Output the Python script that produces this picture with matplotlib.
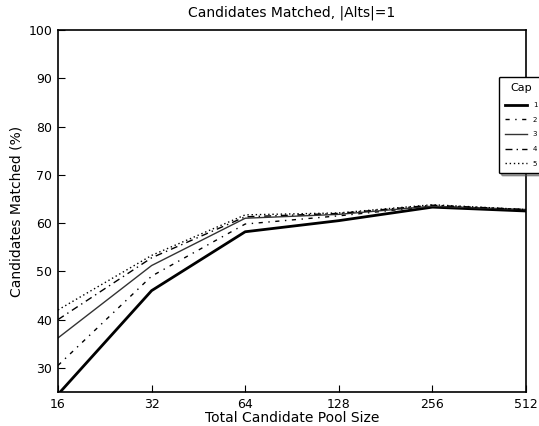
import matplotlib

matplotlib.use("Agg")

import matplotlib.pyplot as plt

pool_sizes = [16, 32, 64, 128, 256, 512]
pool_labels = ['16', '32', '64', '128', '256', '512']

cap_labels = ['1', '2', '3', '4', '5']
cap_1 = [24.5, 46.0, 58.2, 60.5, 63.3, 62.5]
cap_2 = [30.5, 49.0, 59.8, 61.5, 63.5, 62.7]
cap_3 = [36.2, 51.2, 61.0, 61.8, 63.5, 62.8]
cap_4 = [40.0, 52.8, 61.3, 62.0, 63.7, 62.8]
cap_5 = [42.0, 53.3, 61.7, 62.1, 63.8, 62.8]

series = [cap_1, cap_2, cap_3, cap_4, cap_5]
styles = [
    dict(color='black', lw=2.0, ls='-'),
    dict(color='black', lw=1.0, ls=(0, (3, 4, 1, 4))),
    dict(color='#333333', lw=1.0, ls='-'),
    dict(color='black', lw=1.0, ls=(0, (5, 3, 1, 3))),
    dict(color='black', lw=1.0, ls=(0, (1, 2))),
]

plt.rcParams['font.family'] = 'DejaVu Sans'
fig = plt.figure(figsize=(5.39, 4.26), dpi=100)
ax = fig.add_axes([58 / 539, 34 / 426, 468 / 539, 362 / 426])

for vals, lab, st in zip(series, cap_labels, styles):
    ax.plot(pool_sizes, vals, label=lab, **st)

ax.set_xscale('log', base=2)
ax.set_xlim(16, 512)
ax.set_ylim(25, 100)
ax.set_xticks(pool_sizes)
ax.set_xticklabels(pool_labels)
ax.minorticks_off()
ax.set_yticks([30, 40, 50, 60, 70, 80, 90, 100])
ax.tick_params(direction='in', length=5, labelsize=9, colors='black', pad=4)
ax.set_xlabel('Total Candidate Pool Size', fontsize=10, labelpad=0)
ax.set_ylabel('Candidates Matched (%)', fontsize=10)
ax.set_title('Candidates Matched, |Alts|=1', fontsize=10, pad=10)
for s in ax.spines.values():
    s.set_linewidth(1.2)

leg = ax.legend(title='Cap', loc='upper left', bbox_to_anchor=(0.942, 0.87),
                fontsize=5, title_fontsize=8, fancybox=True, shadow=True,
                handlelength=3.2, labelspacing=1.25, borderaxespad=0,
                borderpad=0.9, framealpha=1)
leg.get_frame().set_edgecolor('black')

fig.savefig('out.png', dpi=100)
